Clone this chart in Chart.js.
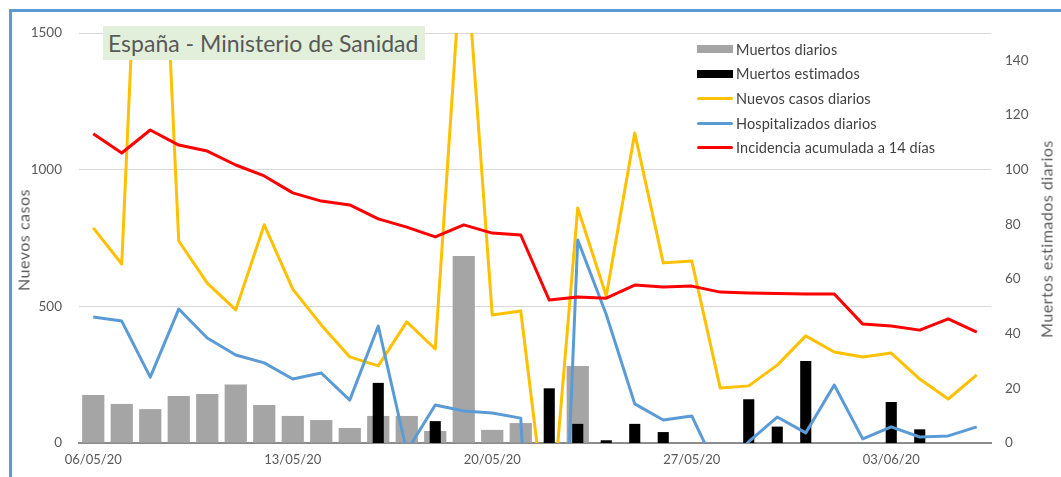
<!DOCTYPE html>
<html>
<head>
<meta charset="utf-8">
<script src="https://cdn.jsdelivr.net/npm/chart.js@4.4.1/dist/chart.umd.min.js"></script>
<style>
  body { margin: 0; background: #fff; }
  #wrap { position: relative; width: 1061px; height: 477px; overflow: hidden; font-family: Lato, sans-serif; }
  #frame { position: absolute; left: 9px; top: 9px; width: 1200px; height: 600px;
           border-left: 3px solid #5b9bd5; border-top: 3px solid #5b9bd5; }
  #chart { position: absolute; left: 0; top: 0; }
  #title { position: absolute; left: 103px; top: 26px; width: 322px; height: 34px;
           background: #e2efda; color: #595959; font-size: 23px; line-height: 34px;
           padding-left: 5px; box-sizing: border-box; white-space: nowrap; }
  #legend { position: absolute; left: 697px; top: 37px; color: #404040; font-size: 14.5px; letter-spacing: 0.1px; }
  #legend .item { height: 24.6px; display: flex; align-items: center; white-space: nowrap; }
  #legend .sym { width: 36px; margin-right: 3px; }
  .atitle { position: absolute; transform: translate(-50%, -50%) rotate(-90deg);
            color: #595959; font-size: 16px; letter-spacing: 0.5px; white-space: nowrap; }
  #ltitle { left: 23px; top: 240px; }
  #rtitle { left: 1046px; top: 239px; }
</style>
</head>
<body>
<div id="wrap">
  <div id="frame"></div>
  <canvas id="chart" width="1061" height="477"></canvas>
  <div id="title">España - Ministerio de Sanidad</div>
  <div id="legend"></div>
  <div class="atitle" id="ltitle">Nuevos casos</div>
  <div class="atitle" id="rtitle">Muertos estimados diarios</div>
</div>
<script>
const fechas = ['06/05/20', '07/05/20', '08/05/20', '09/05/20', '10/05/20', '11/05/20', '12/05/20',
  '13/05/20', '14/05/20', '15/05/20', '16/05/20', '17/05/20', '18/05/20', '19/05/20',
  '20/05/20', '21/05/20', '22/05/20', '23/05/20', '24/05/20', '25/05/20', '26/05/20',
  '27/05/20', '28/05/20', '29/05/20', '30/05/20', '31/05/20', '01/06/20', '02/06/20',
  '03/06/20', '04/06/20', '05/06/20', '06/06/20'];

const muertosDiarios = [176, 143, 124, 172, 179, 214, 139, 99, 84, 55, 99, 99, 44, 684, 48, 73,
  null, 282, null, null, null, null, null, null, null, null, null, null, null, null, null, null];

const muertosEstimados = [null, null, null, null, null, null, null, null, null, null, 22, null, 8, null, null, null,
  20, 7, 1, 7, 4, null, null, 16, 6, 30, null, null, 15, 5, null, null];

const nuevosCasos = [787, 655, 3000, 739, 585, 487, 798, 563, 432, 315, 282, 443, 344, 1900, 468, 483,
  -370, 860, 538, 1134, 659, 666, 201, 209, 285, 392, 333, 315, 329, 234, 161, 249];

const hospitalizados = [461, 446, 241, 490, 384, 322, 293, 234, 256, 157, 428, -30, 139, 117, 110, 91,
  -1800, 743, 470, 143, 84, 99, -120, 5, 95, 37, 212, 15, 59, 22, 26, 59];

const incidencia14 = [1131, 1061, 1145, 1090, 1068, 1017, 977, 915, 885, 871, 820, 790, 754, 798, 768, 761,
  523, 534, 530, 578, 571, 574, 552, 549, 547, 545, 545, 435, 428, 413, 454, 406];

const tickFont = { family: 'Lato', size: 13.5 };
const gris = '#595959';

const chart = new Chart(document.getElementById('chart'), {
  type: 'bar',
  data: {
    labels: fechas,
    datasets: [
      { type: 'bar', label: 'Muertos diarios', data: muertosDiarios, yAxisID: 'y',
        backgroundColor: '#a5a5a5', grouped: false, barPercentage: 0.78, categoryPercentage: 1, order: 5 },
      { type: 'bar', label: 'Muertos estimados', data: muertosEstimados, yAxisID: 'y2',
        backgroundColor: '#000000', grouped: false, barPercentage: 0.39, categoryPercentage: 1, order: 4 },
      { type: 'line', label: 'Nuevos casos diarios', data: nuevosCasos, yAxisID: 'y',
        borderColor: '#ffc000', borderWidth: 3, pointRadius: 0, tension: 0, borderJoinStyle: 'round', order: 3 },
      { type: 'line', label: 'Hospitalizados diarios', data: hospitalizados, yAxisID: 'y',
        borderColor: '#5b9bd5', borderWidth: 3, pointRadius: 0, tension: 0, borderJoinStyle: 'round', order: 2 },
      { type: 'line', label: 'Incidencia acumulada a 14 días', data: incidencia14, yAxisID: 'y',
        borderColor: '#ff0000', borderWidth: 3, pointRadius: 0, tension: 0, borderJoinStyle: 'round', order: 1 }
    ]
  },
  options: {
    responsive: false,
    animation: false,
    layout: { padding: { top: 33, left: 0, right: 0, bottom: 0 } },
    plugins: { legend: { display: false }, tooltip: { enabled: false } },
    scales: {
      x: {
        offset: true,
        grid: { display: false, drawTicks: false },
        border: { display: true, color: '#8c8c8c', width: 2 },
        ticks: {
          autoSkip: false, maxRotation: 0, padding: 9, color: gris, font: { family: 'Lato', size: 13 },
          callback: (v, i) => (i % 7 === 0 ? fechas[i] : '')
        },
        afterFit: s => { s.height = 34; }
      },
      y: {
        position: 'left', min: 0, max: 1500,
        ticks: { stepSize: 500, padding: 17, color: gris, font: tickFont, callback: v => String(v) },
        grid: { color: '#d9d9d9', drawTicks: false },
        border: { display: false },
        afterFit: s => { s.width = 79; }
      },
      y2: {
        position: 'right', min: 0, max: 150,
        ticks: { stepSize: 20, includeBounds: false, padding: 14, color: gris, font: tickFont },
        grid: { display: false, drawTicks: false },
        border: { display: false },
        afterFit: s => { s.width = 70; }
      }
    }
  }
});

// leyenda dentro del área del gráfico
const leg = document.getElementById('legend');
chart.data.datasets.forEach(ds => {
  const row = document.createElement('div');
  row.className = 'item';
  const sym = document.createElement('div');
  sym.className = 'sym';
  if (ds.type === 'bar') {
    sym.style.height = '8px';
    sym.style.background = ds.backgroundColor;
  } else {
    sym.style.height = '3px';
    sym.style.borderRadius = '2px';
    sym.style.background = ds.borderColor;
  }
  const txt = document.createElement('span');
  txt.textContent = ds.label;
  row.appendChild(sym);
  row.appendChild(txt);
  leg.appendChild(row);
});
</script>
</body>
</html>
